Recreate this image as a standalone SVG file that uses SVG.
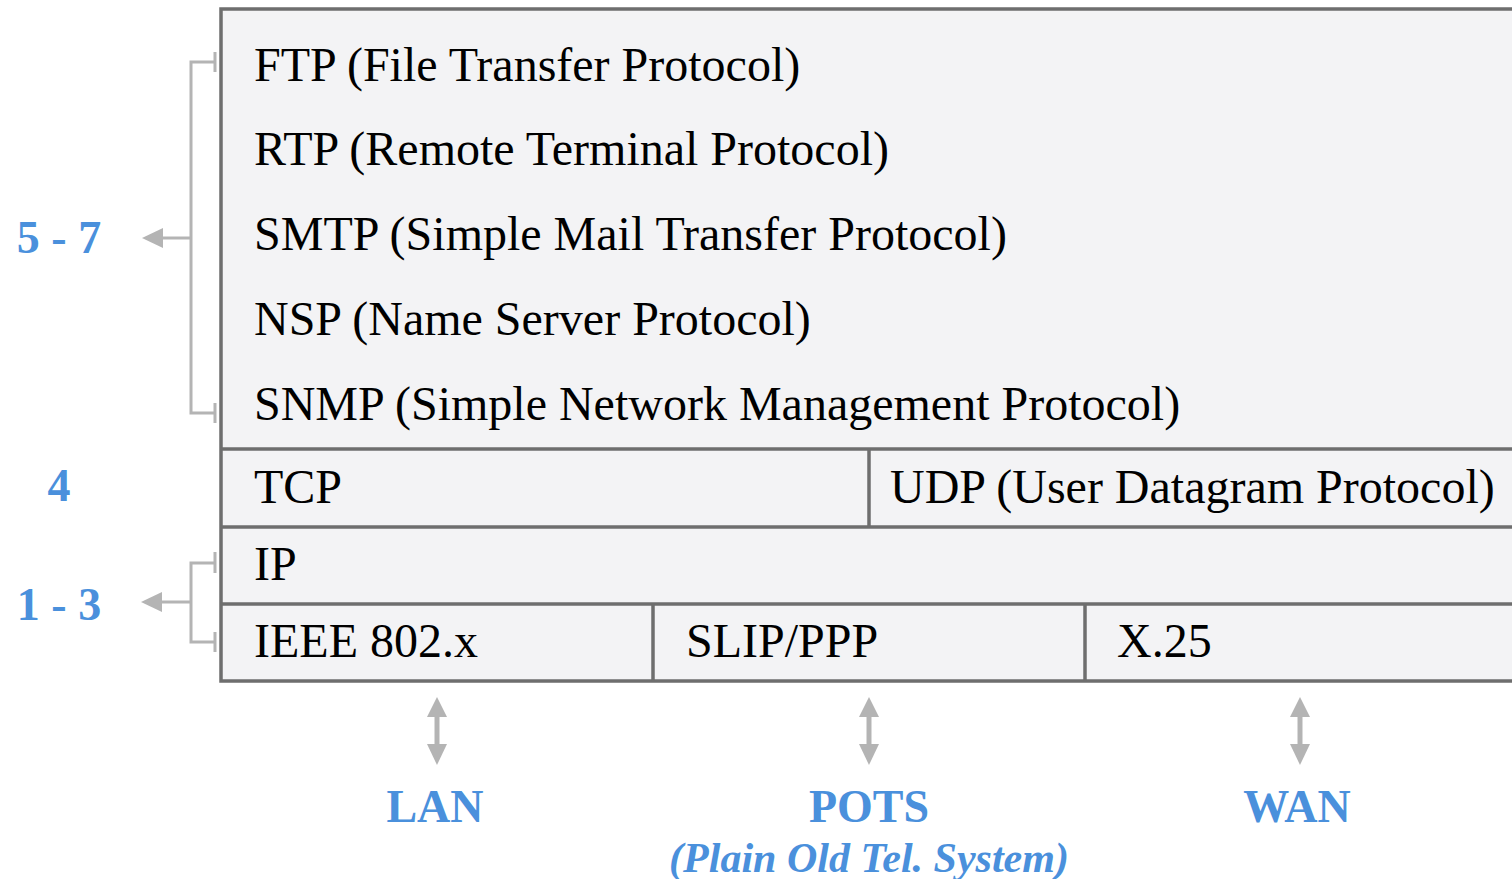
<svg xmlns="http://www.w3.org/2000/svg" width="1512" height="879" viewBox="0 0 1512 879">
<defs>
<style>
.t{font-family:"Liberation Serif","Times New Roman",serif;font-size:48px;fill:#000}
.b{font-family:"Liberation Serif","Times New Roman",serif;font-size:46px;font-weight:bold;fill:#4a90dc}
.bi{font-family:"Liberation Serif","Times New Roman",serif;font-size:42px;font-weight:bold;font-style:italic;fill:#4a90dc}
.box{fill:#f3f3f5;stroke:#6e6e6e;stroke-width:3.5}
.ln{stroke:#6e6e6e;stroke-width:3.5;fill:none}
.br{stroke:#b4b4b4;stroke-width:3;fill:none}
.ar{fill:#b4b4b4}
</style>
</defs>
<rect width="1512" height="879" fill="#ffffff"/>
<g id="stack">
<rect class="box" x="221" y="9" width="1320" height="672"/>
<line class="ln" x1="221" y1="449" x2="1512" y2="449"/>
<line class="ln" x1="221" y1="527" x2="1512" y2="527"/>
<line class="ln" x1="221" y1="604" x2="1512" y2="604"/>
<line class="ln" x1="869" y1="449" x2="869" y2="527"/>
<line class="ln" x1="653" y1="604" x2="653" y2="681"/>
<line class="ln" x1="1085" y1="604" x2="1085" y2="681"/>
</g>
<g id="app">
<text class="t" x="254" y="81">FTP (File Transfer Protocol)</text>
<text class="t" x="254" y="165">RTP (Remote Terminal Protocol)</text>
<text class="t" x="254" y="250">SMTP (Simple Mail Transfer Protocol)</text>
<text class="t" x="254" y="335">NSP (Name Server Protocol)</text>
<text class="t" x="254" y="420">SNMP (Simple Network Management Protocol)</text>
</g>
<g id="tcp"><text class="t" x="254" y="503">TCP</text></g>
<g id="udp"><text class="t" x="890" y="503">UDP (User Datagram Protocol)</text></g>
<g id="ip"><text class="t" x="254" y="580">IP</text></g>
<g id="ieee"><text class="t" x="254" y="657">IEEE 802.x</text></g>
<g id="slip"><text class="t" x="686" y="657">SLIP/PPP</text></g>
<g id="x25"><text class="t" x="1117" y="657">X.25</text></g>
<g id="layers">
<text class="b" x="59" y="253" text-anchor="middle">5 - 7</text>
<text class="b" x="59" y="501" text-anchor="middle">4</text>
<text class="b" x="59" y="620" text-anchor="middle">1 - 3</text>
</g>
<g id="nets">
<text class="b" x="435" y="822" text-anchor="middle">LAN</text>
<text class="b" x="869" y="822" text-anchor="middle">POTS</text>
<text class="bi" x="869" y="872" text-anchor="middle">(Plain Old Tel. System)</text>
<text class="b" x="1297" y="822" text-anchor="middle">WAN</text>
</g>
<g id="connectors">
<path class="br" d="M215 52V72M215 62H191V413H215M215 403V423"/>
<path class="br" d="M191 238H160"/>
<polygon class="ar" points="142,238 163,228 163,248"/>
<path class="br" d="M215 552V573M215 563H191V642H215M215 632V652"/>
<path class="br" d="M191 602H158"/>
<polygon class="ar" points="141,602 162,592 162,612"/>
<g>
<line x1="437" y1="712" x2="437" y2="750" stroke="#b4b4b4" stroke-width="5"/>
<polygon class="ar" points="437,697 447,717 427,717"/>
<polygon class="ar" points="437,765 447,744 427,744"/>
</g>
<g>
<line x1="869" y1="712" x2="869" y2="750" stroke="#b4b4b4" stroke-width="5"/>
<polygon class="ar" points="869,697 879,717 859,717"/>
<polygon class="ar" points="869,765 879,744 859,744"/>
</g>
<g>
<line x1="1300" y1="712" x2="1300" y2="750" stroke="#b4b4b4" stroke-width="5"/>
<polygon class="ar" points="1300,697 1310,717 1290,717"/>
<polygon class="ar" points="1300,765 1310,744 1290,744"/>
</g>
</g>
</svg>
